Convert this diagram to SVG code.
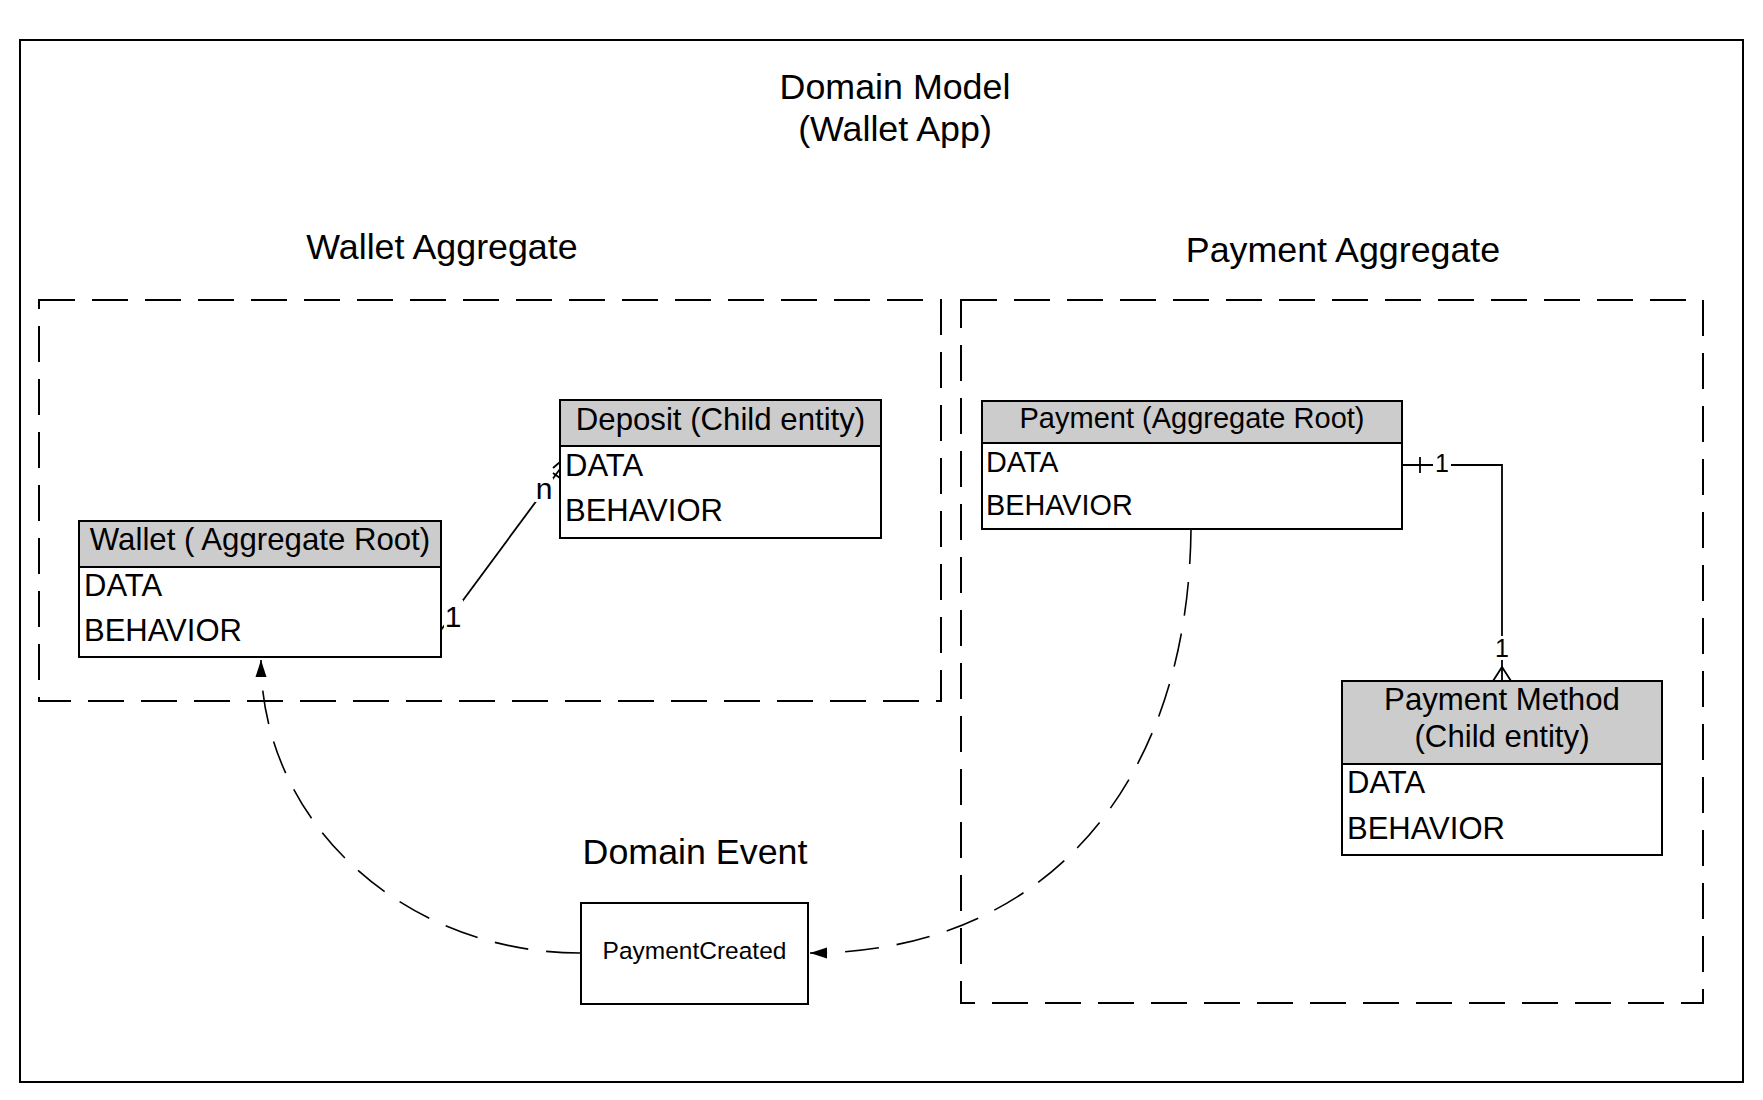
<svg xmlns="http://www.w3.org/2000/svg" width="1763" height="1100" viewBox="0 0 1763 1100">
<style>
text{font-family:"Liberation Sans",Arial,sans-serif;fill:#000}
.big{font-size:35.8px;text-anchor:middle}
.hdr{font-size:31.2px;text-anchor:middle}
.body{font-size:31px}
.lbl{font-size:30px;text-anchor:middle}
.lbl2{font-size:25px;text-anchor:middle}
.box{fill:#fff;stroke:#000;stroke-width:2}
.head{fill:#cccccc;stroke:#000;stroke-width:2}
.agg{fill:none;stroke:#000;stroke-width:2;stroke-dasharray:36 17}
.conn{fill:none;stroke:#000;stroke-width:1.8}
.flow{fill:none;stroke:#000;stroke-width:1.6;stroke-dasharray:34 18}
</style>
<defs>
<marker id="arr" markerUnits="userSpaceOnUse" markerWidth="20" markerHeight="12" refX="17" refY="5.5" orient="auto">
<path d="M0,0 L17,5.5 L0,11 z" fill="#000"/>
</marker>
</defs>
<rect width="1763" height="1100" fill="#fff"/>
<rect id="frame" x="20" y="40" width="1723" height="1042" fill="none" stroke="#000" stroke-width="2"/>
<text class="big" x="895" y="99">Domain Model</text>
<text class="big" x="895" y="141">(Wallet App)</text>
<g id="wallet-aggregate">
<rect class="agg" x="39" y="300" width="902" height="401"/>
<text class="big" x="442" y="259">Wallet Aggregate</text>
</g>
<g id="payment-aggregate">
<rect class="agg" x="961" y="300" width="742" height="703"/>
<text class="big" x="1343" y="262">Payment Aggregate</text>
</g>
<g id="connectors">
<path class="conn" d="M441,630 L560,469"/>
<rect x="444" y="600" width="19" height="30" fill="#fff"/>
<text class="lbl" x="453" y="627">1</text>
<rect x="535" y="478" width="18" height="24" fill="#fff"/>
<text class="lbl" x="544" y="499">n</text>
<path class="conn" d="M560,462 L553,468 M560,478 L553,473"/>
<path class="conn" d="M1402,465 H1502 V681"/>
<path class="conn" d="M1420,457 V473"/>
<rect x="1433" y="450" width="18" height="26" fill="#fff"/>
<text class="lbl2" x="1442" y="472">1</text>
<rect x="1493" y="636" width="18" height="24" fill="#fff"/>
<text class="lbl2" x="1502" y="657">1</text>
<path class="conn" d="M1493,681 L1502,667 L1511,681"/>
<path class="flow" d="M580,953 A319,293 0 0 1 261,660" marker-end="url(#arr)"/>
<path class="flow" d="M1191,530 C1188,790 1040,953 810,953" marker-end="url(#arr)"/>
</g>
<g id="wallet">
<rect class="box" x="79" y="521" width="362" height="136"/>
<rect class="head" x="79" y="521" width="362" height="46"/>
<text class="hdr" x="260" y="550">Wallet ( Aggregate Root)</text>
<text class="body" x="84" y="596">DATA</text>
<text class="body" x="84" y="641">BEHAVIOR</text>
</g>
<g id="deposit">
<rect class="box" x="560" y="400" width="321" height="138"/>
<rect class="head" x="560" y="400" width="321" height="46"/>
<text class="hdr" x="720.5" y="430">Deposit (Child entity)</text>
<text class="body" x="565" y="476">DATA</text>
<text class="body" x="565" y="521">BEHAVIOR</text>
</g>
<g id="payment">
<rect class="box" x="982" y="401" width="420" height="128"/>
<rect class="head" x="982" y="401" width="420" height="42"/>
<text class="hdr" x="1192" y="428" style="font-size:29px">Payment (Aggregate Root)</text>
<text class="body" x="986" y="472" style="font-size:28.8px">DATA</text>
<text class="body" x="986" y="515" style="font-size:28.8px">BEHAVIOR</text>
</g>
<g id="payment-method">
<rect class="box" x="1342" y="681" width="320" height="174"/>
<rect class="head" x="1342" y="681" width="320" height="83"/>
<text class="hdr" x="1502" y="710">Payment Method</text>
<text class="hdr" x="1502" y="747">(Child entity)</text>
<text class="body" x="1347" y="793">DATA</text>
<text class="body" x="1347" y="839">BEHAVIOR</text>
</g>
<g id="domain-event">
<text class="big" x="695" y="864">Domain Event</text>
<rect class="box" x="581" y="903" width="227" height="101"/>
<text x="694.5" y="959" style="font-size:24.5px;text-anchor:middle">PaymentCreated</text>
</g>
</svg>
